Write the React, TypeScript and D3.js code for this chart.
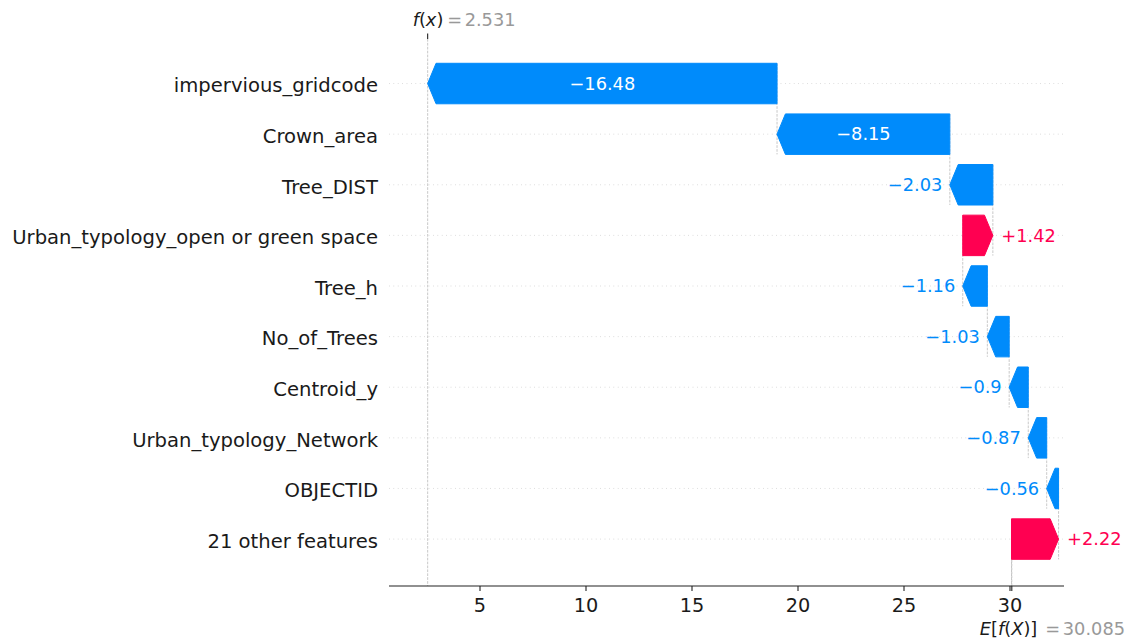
import React from "react";
import * as d3 from "d3";

const features = [
  "impervious_gridcode",
  "Crown_area",
  "Tree_DIST",
  "Urban_typology_open or green space",
  "Tree_h",
  "No_of_Trees",
  "Centroid_y",
  "Urban_typology_Network",
  "OBJECTID",
  "21 other features",
];
const shapValues = [-16.48, -8.15, -2.03, 1.42, -1.16, -1.03, -0.9, -0.87, -0.56, 2.22];
const fxValue = 2.531;
const baseValue = 30.085;
const xTicks = [5, 10, 15, 20, 25, 30];

const BLUE = "#008bfb";
const RED = "#ff0051";
const FONT = "DejaVu Sans, sans-serif";

export default function App() {
  const W = 1133;
  const H = 643;
  const left = 389;
  const right = 1064;
  const top = 39;
  const bottom = 586;
  const n = features.length;

  const x = d3.scaleLinear().domain([0.7075, 32.547]).range([left, right]);
  const y = d3.scaleLinear().domain([0.073, 10.88]).range([bottom, top]);

  const headLen = 8.4; // px
  const half = 0.4;

  // cumulative positions, from f(x) downward (as shap does)
  let loc = fxValue;
  const rows = features.map((name, i) => {
    const v = shapValues[i];
    const end = loc;
    loc = loc - v;
    const start = loc;
    return { name, v, start, end, ry: n - i, i };
  });

  const label = (v: number) => {
    const s = Math.abs(v).toString();
    return (v < 0 ? "\u2212" : "+") + s;
  };

  const arrowPath = (start: number, end: number, ry: number) => {
    const x0 = x(start);
    const x1 = x(end);
    const yt = y(ry + half);
    const yb = y(ry - half);
    const yc = y(ry);
    const dist = Math.abs(x1 - x0);
    const hl = Math.min(dist, headLen);
    const dir = x1 >= x0 ? 1 : -1;
    const xh = x1 - dir * hl;
    return `M${x0},${yt}L${xh},${yt}L${x1},${yc}L${xh},${yb}L${x0},${yb}Z`;
  };

  const labelFont = 19.6;
  const tickFont = 19.3;
  const barFont = 17.8;

  return (
    <svg width={W} height={H} style={{ position: "absolute", left: 0, top: 0, background: "#fff" }} fontFamily={FONT}>
      {/* horizontal grid lines */}
      {rows.map((r) => (
        <line key={"g" + r.i} x1={left} x2={right} y1={y(r.ry)} y2={y(r.ry)} stroke="#cccccc" strokeWidth={0.8} strokeDasharray="0.8 3.6" />
      ))}
      {/* f(x) vertical line */}
      <line x1={x(fxValue)} x2={x(fxValue)} y1={top} y2={bottom} stroke="#bbbbbb" strokeWidth={0.8} strokeDasharray="2.7 1.2" />
      {/* E[f(X)] vertical line */}
      <line x1={x(baseValue)} x2={x(baseValue)} y1={bottom} y2={bottom - (bottom - top) / n} stroke="#bbbbbb" strokeWidth={0.8} strokeDasharray="2.7 1.2" />
      {/* connectors */}
      {rows.map((r) => (
        <line key={"c" + r.i} x1={x(r.start)} x2={x(r.start)} y1={y(r.ry + half)} y2={Math.min(bottom, y(r.ry - 1 - half))} stroke="#bbbbbb" strokeWidth={0.8} strokeDasharray="2.7 1.2" />
      ))}
      {/* arrows */}
      {rows.map((r) => {
        const c = r.v < 0 ? BLUE : RED;
        return <path key={"a" + r.i} d={arrowPath(r.start, r.end, r.ry)} fill={c} stroke={c} strokeWidth={1} strokeLinejoin="round" />;
      })}
      {/* value labels */}
      {rows.map((r) => {
        const c = r.v < 0 ? BLUE : RED;
        const txt = label(r.v);
        const wPx = Math.abs(x(r.end) - x(r.start));
        const estText = txt.length * 0.62 * barFont + 6;
        const yc = y(r.ry) + barFont * 0.35;
        if (estText < wPx) {
          return (
            <text key={"t" + r.i} x={(x(r.start) + x(r.end)) / 2} y={yc} textAnchor="middle" fill="#fff" fontSize={barFont}>
              {txt}
            </text>
          );
        }
        if (r.v < 0) {
          return (
            <text key={"t" + r.i} x={x(r.end) - 7.5} y={yc} textAnchor="end" fill={c} fontSize={barFont}>
              {txt}
            </text>
          );
        }
        return (
          <text key={"t" + r.i} x={x(r.end) + 8.5} y={yc} textAnchor="start" fill={c} fontSize={barFont}>
            {txt}
          </text>
        );
      })}
      {/* feature labels */}
      {rows.map((r) => (
        <text key={"l" + r.i} x={378} y={y(r.ry) + labelFont * 0.35 + 2} textAnchor="end" fill="#1a1a1a" fontSize={labelFont}>
          {r.name}
        </text>
      ))}
      {/* bottom axis */}
      <line x1={left} x2={right} y1={bottom} y2={bottom} stroke="#222" strokeWidth={1.1} />
      {xTicks.map((t) => (
        <g key={"xt" + t}>
          <line x1={x(t)} x2={x(t)} y1={bottom} y2={bottom + 5} stroke="#222" strokeWidth={1.1} />
          <text x={x(t)} y={612} textAnchor="middle" fill="#1a1a1a" fontSize={tickFont}>
            {t}
          </text>
        </g>
      ))}
      <line x1={x(baseValue)} x2={x(baseValue)} y1={bottom} y2={bottom + 5} stroke="#222" strokeWidth={1.1} />
      {/* top tick for f(x) */}
      <line x1={x(fxValue)} x2={x(fxValue)} y1={top} y2={top - 5.5} stroke="#222" strokeWidth={1.1} />
      {/* f(x) label */}
      <text x={x(fxValue) - 15} y={25.5} fontSize={barFont} fill="#1a1a1a">
        <tspan fontStyle="italic">f</tspan>
        <tspan>(</tspan>
        <tspan fontStyle="italic">x</tspan>
        <tspan>)</tspan>
      </text>
      <text x={x(fxValue) + 19.5} y={25.5} fontSize={barFont} fill="#999999">=</text>
      <text x={x(fxValue) + 37} y={25.5} fontSize={barFont} fill="#999999">
        {fxValue.toFixed(3)}
      </text>
      {/* E[f(X)] label */}
      <text x={x(baseValue) - 32} y={635} fontSize={barFont} fill="#1a1a1a">
        <tspan fontStyle="italic">E</tspan>
        <tspan>[</tspan>
        <tspan fontStyle="italic">f</tspan>
        <tspan>(</tspan>
        <tspan fontStyle="italic">X</tspan>
        <tspan>)]</tspan>
      </text>
      <text x={x(baseValue) + 33.5} y={635} fontSize={barFont} fill="#999999">=</text>
      <text x={x(baseValue) + 51} y={635} fontSize={barFont} fill="#999999">
        {baseValue.toFixed(3)}
      </text>
    </svg>
  );
}
